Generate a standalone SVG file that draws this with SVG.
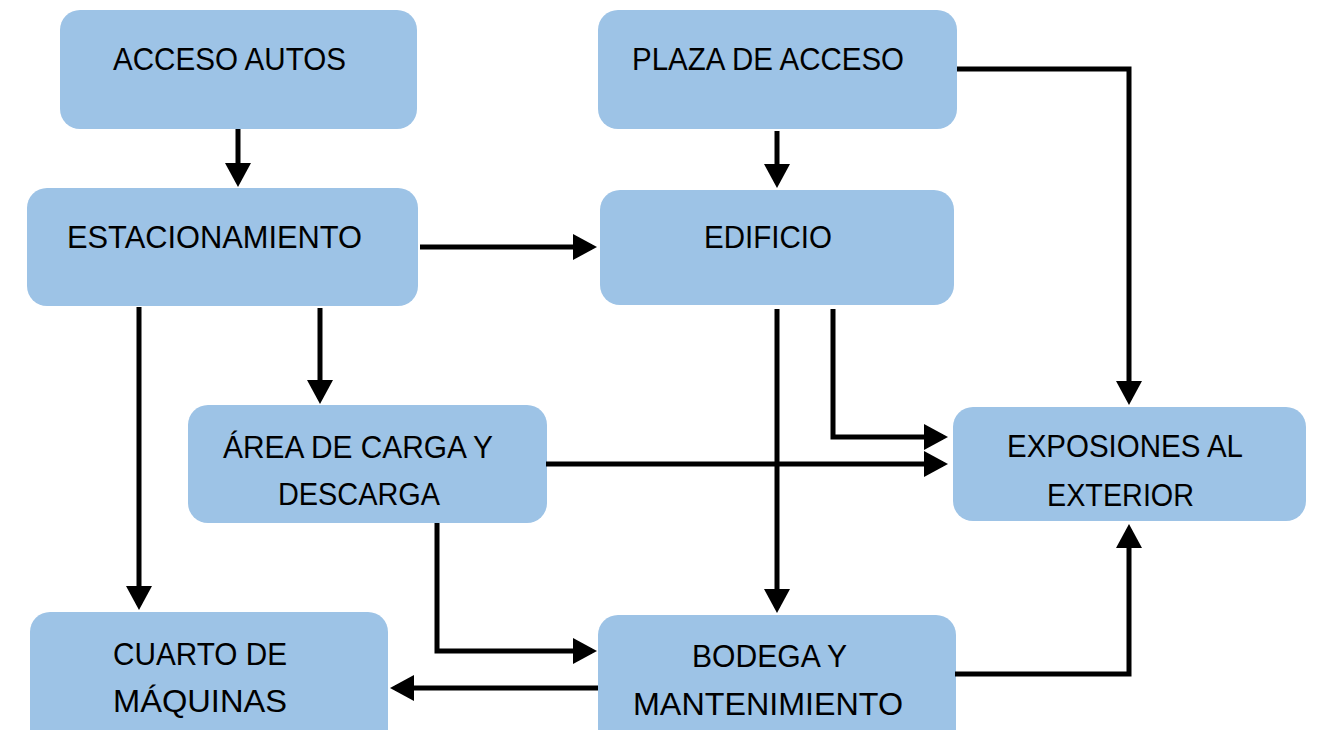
<svg xmlns="http://www.w3.org/2000/svg" width="1321" height="730" viewBox="0 0 1321 730">
<style>
.box{fill:#9DC3E6;}
.lbl{font-family:"Liberation Sans",Arial,sans-serif;font-size:32px;fill:#000;}
.con{fill:none;stroke:#000;stroke-width:5;stroke-linejoin:miter;stroke-linecap:butt;}
</style>
<defs>
<marker id="ah" markerUnits="userSpaceOnUse" markerWidth="26" markerHeight="26" refX="19" refY="13" orient="auto" viewBox="0 0 24 26">
<path d="M0,0 L24,13 L0,26 Z" fill="#000"/>
</marker>
</defs>
<rect width="1321" height="730" fill="#fff"/>
<g id="n-acceso-autos"><rect class="box" x="60" y="10" width="357" height="119" rx="20"/><text class="lbl" x="113" y="70" textLength="233" lengthAdjust="spacingAndGlyphs">ACCESO AUTOS</text></g>
<g id="n-plaza"><rect class="box" x="598" y="10" width="359" height="119" rx="20"/><text class="lbl" x="632" y="70" textLength="272" lengthAdjust="spacingAndGlyphs">PLAZA DE ACCESO</text></g>
<g id="n-estacionamiento"><rect class="box" x="27" y="188" width="391" height="118" rx="20"/><text class="lbl" x="67" y="248" textLength="295" lengthAdjust="spacingAndGlyphs">ESTACIONAMIENTO</text></g>
<g id="n-edificio"><rect class="box" x="600" y="190" width="354" height="115" rx="20"/><text class="lbl" x="704" y="248" textLength="128" lengthAdjust="spacingAndGlyphs">EDIFICIO</text></g>
<g id="n-area"><rect class="box" x="188" y="405" width="359" height="118" rx="20"/><text class="lbl" x="223" y="458" textLength="270" lengthAdjust="spacingAndGlyphs">ÁREA DE CARGA Y</text><text class="lbl" x="278" y="505" textLength="162" lengthAdjust="spacingAndGlyphs">DESCARGA</text></g>
<g id="n-exposiones"><rect class="box" x="953" y="407" width="353" height="114" rx="20"/><text class="lbl" x="1007" y="457" textLength="236" lengthAdjust="spacingAndGlyphs">EXPOSIONES AL</text><text class="lbl" x="1047" y="506" textLength="147" lengthAdjust="spacingAndGlyphs">EXTERIOR</text></g>
<g id="n-cuarto"><rect class="box" x="30" y="612" width="358" height="140" rx="20"/><text class="lbl" x="113" y="665" textLength="174" lengthAdjust="spacingAndGlyphs">CUARTO DE</text><text class="lbl" x="113" y="712" textLength="174" lengthAdjust="spacingAndGlyphs">MÁQUINAS</text></g>
<g id="n-bodega"><rect class="box" x="598" y="615" width="358" height="140" rx="20"/><text class="lbl" x="692" y="667" textLength="155" lengthAdjust="spacingAndGlyphs">BODEGA Y</text><text class="lbl" x="633" y="715" textLength="270" lengthAdjust="spacingAndGlyphs">MANTENIMIENTO</text></g>
<g id="connectors">
<path class="con" marker-end="url(#ah)" d="M238,129 L238,182"/>
<path class="con" marker-end="url(#ah)" d="M777,131 L777,183"/>
<path class="con" marker-end="url(#ah)" d="M420,247 L592,247"/>
<path class="con" marker-end="url(#ah)" d="M957,69 L1129,69 L1129,400"/>
<path class="con" marker-end="url(#ah)" d="M139,307 L139,605"/>
<path class="con" marker-end="url(#ah)" d="M320,308 L320,399"/>
<path class="con" marker-end="url(#ah)" d="M777,309 L777,608"/>
<path class="con" marker-end="url(#ah)" d="M833,309 L833,437 L943,437"/>
<path class="con" marker-end="url(#ah)" d="M546,464 L943,464"/>
<path class="con" marker-end="url(#ah)" d="M437,523 L437,651 L592,651"/>
<path class="con" marker-end="url(#ah)" d="M598,688 L395,688"/>
<path class="con" marker-end="url(#ah)" d="M955,674 L1129,674 L1129,529"/>
</g>
</svg>
